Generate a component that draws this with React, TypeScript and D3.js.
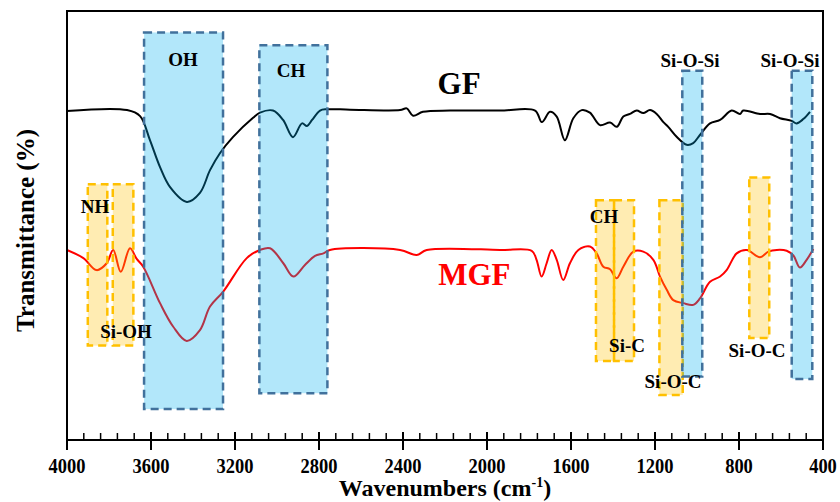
import * as d3 from "d3";

// FTIR spectra, wavenumber (cm-1) vs transmittance (arbitrary units)
const gfWave = [4000, 3714, 3652, 3605, 3557, 3510, 3429, 3367, 3319, 3271, 3210, 3114, 3081, 3019, 2971, 2924, 2881, 2857, 2833, 2795, 2762, 2652, 2414, 2382, 2352, 2305, 2176, 1938, 1771, 1739, 1700, 1668, 1629, 1589, 1549, 1510, 1462, 1414, 1382, 1351, 1319, 1287, 1256, 1224, 1192, 1160, 1137, 1097, 1049, 1018, 986, 938, 890, 835, 795, 780, 700, 652, 605, 549, 526, 494, 462];
const gfT = [76.7, 76.9, 75.5, 69.9, 63.6, 59.0, 55.5, 57.6, 62.9, 66.9, 70.6, 75.1, 76.3, 76.8, 74.6, 70.6, 73.8, 73.2, 74.6, 76.8, 77.1, 77.0, 76.9, 77.3, 75.6, 76.5, 76.8, 76.8, 76.8, 74.1, 76.5, 75.4, 69.9, 75.0, 76.9, 76.3, 73.4, 74.0, 73.0, 75.4, 76.0, 76.8, 76.2, 76.9, 76.0, 74.1, 73.0, 70.7, 68.8, 69.2, 71.1, 73.8, 74.6, 76.8, 76.0, 76.8, 76.0, 76.0, 75.0, 74.4, 73.8, 74.8, 76.5];

const mgfWave = [4000, 3922, 3859, 3811, 3780, 3744, 3700, 3668, 3637, 3557, 3494, 3430, 3367, 3319, 3256, 3144, 3081, 3033, 2970, 2922, 2867, 2819, 2779, 2748, 2414, 2335, 2287, 1938, 1787, 1764, 1740, 1716, 1692, 1668, 1637, 1605, 1565, 1510, 1478, 1446, 1414, 1383, 1351, 1303, 1256, 1208, 1176, 1144, 1113, 1065, 1018, 986, 938, 890, 859, 811, 763, 700, 660, 620, 573, 541, 510, 478, 446];
const mgfT = [44.3, 42.4, 39.6, 41.2, 44.3, 39.2, 44.7, 42.2, 40.4, 31.9, 26.4, 23.1, 25.6, 31.1, 34.6, 42.4, 44.3, 44.7, 41.2, 38.1, 40.8, 42.9, 43.5, 44.3, 44.3, 43.1, 44.3, 44.3, 44.1, 42.0, 38.1, 41.2, 44.3, 42.0, 37.3, 41.2, 44.3, 45.1, 43.5, 40.4, 39.8, 37.7, 40.4, 43.9, 43.9, 42.0, 38.1, 35.0, 32.6, 31.9, 31.5, 33.0, 36.9, 38.1, 39.6, 43.5, 44.3, 42.6, 43.9, 44.3, 44.1, 43.0, 40.2, 42.0, 44.5];

// highlighted bands: [from, to] wavenumber, [low, high] transmittance
const blueBands = [
  { from: 3633, to: 3257, low: 7.2, high: 95.0 },
  { from: 3084, to: 2760, low: 10.9, high: 92.0 },
  { from: 1070, to: 975, low: 14.8, high: 86.1 },
  { from: 549, to: 451, low: 14.2, high: 86.1 },
];
const orangeBands = [
  { from: 3901, to: 3808, low: 22.0, high: 59.6 },
  { from: 3782, to: 3684, low: 22.0, high: 59.6 },
  { from: 1481, to: 1395, low: 18.4, high: 55.9 },
  { from: 1395, to: 1300, low: 18.4, high: 55.9 },
  { from: 1179, to: 1068, low: 10.5, high: 55.9 },
  { from: 751, to: 656, low: 23.8, high: 61.2 },
];

// band labels: text, wavenumber of centre, transmittance of baseline
const bandLabels = [
  { text: "OH", wave: 3448, t: 87.2 },
  { text: "CH", wave: 2933, t: 84.6 },
  { text: "NH", wave: 3867, t: 52.9 },
  { text: "Si-OH", wave: 3719, t: 23.8 },
  { text: "CH", wave: 1443, t: 50.6 },
  { text: "Si-C", wave: 1333, t: 20.5 },
  { text: "Si-O-C", wave: 1114, t: 12.1 },
  { text: "Si-O-C", wave: 714, t: 19.3 },
  { text: "Si-O-Si", wave: 1033, t: 86.9 },
  { text: "Si-O-Si", wave: 557, t: 86.9 },
];

const xTicks = [4000, 3600, 3200, 2800, 2400, 2000, 1600, 1200, 800, 400];

const width = 840;
const height = 502;
const left = 67, right = 823, top = 11, bottom = 440;

export default function App() {
  const x = d3.scaleLinear().domain([4000, 400]).range([left, right]);
  const y = d3.scaleLinear().domain([0, 100]).range([bottom, top]);

  const line = d3
    .line<[number, number]>()
    .x((d) => x(d[0]))
    .y((d) => y(d[1]))
    .curve(d3.curveCatmullRom.alpha(0.5));

  const gf = gfWave.map((w, i) => [w, gfT[i]] as [number, number]);
  const mgf = mgfWave.map((w, i) => [w, mgfT[i]] as [number, number]);

  const minor = d3.range(4000, 399, -80).filter((v) => v % 400 !== 0);
  const font = "'Liberation Serif', 'Times New Roman', serif";

  const band = (b, fill, stroke, key) => (
    <rect
      key={key}
      x={x(b.from)}
      y={y(b.high)}
      width={x(b.to) - x(b.from)}
      height={y(b.low) - y(b.high)}
      fill={fill}
      fillOpacity={0.3}
      stroke={stroke}
      strokeWidth={2.5}
      strokeDasharray="8,5"
    />
  );

  return (
    <div style={{ position: "absolute", left: 0, top: 0 }}>
      <svg width={width} height={height} style={{ display: "block", background: "#fff" }}>
        <path d={line(gf) ?? ""} fill="none" stroke="#000" strokeWidth={2} />
        <path d={line(mgf) ?? ""} fill="none" stroke="#ff0000" strokeWidth={2} />

        {orangeBands.map((b, i) => band(b, "#ffc000", "#ffc000", "o" + i))}
        {blueBands.map((b, i) => band(b, "#00b0f0", "#41719c", "b" + i))}

        {/* frame */}
        <rect x={left} y={top} width={right - left} height={bottom - top} fill="none" stroke="#000" strokeWidth={2} />

        {/* x ticks */}
        {xTicks.map((t) => (
          <g key={t}>
            <line x1={x(t)} x2={x(t)} y1={bottom - 8} y2={bottom + 10} stroke="#000" strokeWidth={2} />
            <text
              transform={`translate(${x(t)}, ${bottom + 33}) scale(0.88, 1)`}
              textAnchor="middle"
              fontFamily={font}
              fontWeight="bold"
              fontSize={21}
            >
              {t}
            </text>
          </g>
        ))}
        {minor.map((t) => (
          <line key={"m" + t} x1={x(t)} x2={x(t)} y1={bottom - 7} y2={bottom} stroke="#000" strokeWidth={1.5} />
        ))}

        <text x={(left + right) / 2} y={496} textAnchor="middle" fontFamily={font} fontWeight="bold" fontSize={24}>
          Wavenumbers (cm<tspan dy={-9} fontSize={14}>-1</tspan><tspan dy={9}>)</tspan>
        </text>
        <text
          transform={`translate(34, ${(top + bottom) / 2 + 5}) rotate(-90)`}
          textAnchor="middle"
          fontFamily={font}
          fontWeight="bold"
          fontSize={25}
        >
          Transmittance (%)
        </text>

        {bandLabels.map((l, i) => (
          <text key={"l" + i} x={x(l.wave)} y={y(l.t)} textAnchor="middle" fontFamily={font} fontWeight="bold" fontSize={19}>
            {l.text}
          </text>
        ))}

        <text x={x(2133)} y={y(80.6)} textAnchor="middle" fontFamily={font} fontWeight="bold" fontSize={31}>
          GF
        </text>
        <text x={x(2060)} y={y(36.2)} textAnchor="middle" fontFamily={font} fontWeight="bold" fontSize={31} fill="#ff0000">
          MGF
        </text>
      </svg>
    </div>
  );
}
